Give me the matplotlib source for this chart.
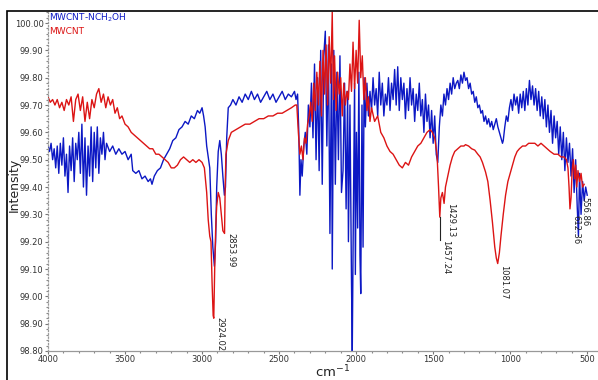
import numpy as np
import matplotlib
matplotlib.use('Agg')
import matplotlib.pyplot as plt
from matplotlib.patches import Rectangle
from matplotlib.ticker import MultipleLocator, FormatStrFormatter

# MWCNT-NCH2OH (blue) : wavenumber (cm-1) / intensity
blue_wn = [4000, 3990, 3980, 3970, 3960, 3950, 3940, 3930, 3920, 3910, 3900, 3890, 3880, 3870, 3860,
           3850, 3840, 3830, 3820, 3810, 3800, 3790, 3780, 3770, 3760, 3750, 3740, 3730, 3720, 3710,
           3700, 3690, 3680, 3670, 3660, 3650, 3640, 3630, 3620, 3600, 3580, 3560, 3540, 3520, 3500,
           3480, 3460, 3450, 3430, 3410, 3390, 3370, 3350, 3335, 3325, 3310, 3290, 3270, 3250, 3230,
           3210, 3190, 3170, 3150, 3130, 3110, 3090, 3070, 3050, 3030, 3015, 3000, 2990, 2980, 2970,
           2960, 2950, 2940, 2930, 2920, 2912, 2905, 2895, 2885, 2875, 2865, 2855, 2848, 2840, 2830,
           2815, 2800, 2780, 2760, 2740, 2720, 2700, 2680, 2660, 2640, 2620, 2600, 2580, 2560, 2540,
           2520, 2500, 2480, 2460, 2440, 2420, 2400, 2390, 2380, 2372, 2365, 2358, 2350, 2340, 2330,
           2320, 2310, 2300, 2290, 2280, 2270, 2260, 2250, 2240, 2230, 2220, 2210, 2200, 2190, 2180,
           2170, 2160, 2155, 2145, 2135, 2125, 2115, 2105, 2095, 2085, 2075, 2065, 2055, 2050, 2040,
           2030, 2025, 2018, 2010, 2005, 1998, 1990, 1982, 1975, 1970, 1962, 1955, 1948, 1940, 1930,
           1920, 1910, 1900, 1890, 1880, 1870, 1860, 1850, 1840, 1830, 1820, 1810, 1800, 1790, 1780,
           1770, 1760, 1750, 1740, 1730, 1720, 1710, 1700, 1690, 1680, 1670, 1660, 1650, 1640, 1630,
           1620, 1610, 1600, 1590, 1580, 1570, 1560, 1550, 1540, 1530, 1520, 1510, 1500, 1490, 1480,
           1470, 1460, 1450, 1440, 1430, 1420, 1410, 1400, 1390, 1380, 1370, 1360, 1350, 1340, 1330,
           1320, 1310, 1300, 1290, 1280, 1270, 1260, 1250, 1240, 1230, 1220, 1210, 1200, 1190, 1180,
           1170, 1160, 1150, 1140, 1130, 1120, 1110, 1100, 1090, 1080, 1070, 1060, 1050, 1045, 1035,
           1025, 1015, 1005, 995, 985, 975, 965, 955, 945, 935, 925, 915, 905, 895, 885,
           875, 865, 855, 845, 835, 825, 815, 805, 795, 785, 775, 765, 755, 745, 735,
           725, 715, 705, 695, 685, 675, 665, 655, 645, 635, 625, 615, 605, 595, 585,
           575, 565, 557, 550, 540, 530, 520, 510, 500]
blue_val = [99.55, 99.53, 99.56, 99.50, 99.54, 99.47, 99.55, 99.45, 99.56, 99.48, 99.58, 99.44, 99.52, 99.38, 99.55,
            99.46, 99.58, 99.42, 99.56, 99.50, 99.60, 99.45, 99.63, 99.40, 99.58, 99.37, 99.55, 99.44, 99.62, 99.42,
            99.60, 99.47, 99.62, 99.45, 99.58, 99.52, 99.60, 99.50, 99.56, 99.53, 99.55, 99.52, 99.54, 99.52, 99.53,
            99.50, 99.52, 99.46, 99.45, 99.46, 99.43, 99.44, 99.42, 99.43, 99.41, 99.44, 99.46, 99.47, 99.50, 99.52,
            99.54, 99.57, 99.58, 99.61, 99.62, 99.64, 99.63, 99.66, 99.65, 99.68, 99.67, 99.69, 99.66, 99.62, 99.55,
            99.51, 99.47, 99.30, 99.18, 99.11, 99.20, 99.40, 99.53, 99.57, 99.52, 99.44, 99.37, 99.40, 99.58, 99.69,
            99.70, 99.72, 99.70, 99.73, 99.71, 99.74, 99.72, 99.75, 99.72, 99.74, 99.71, 99.73, 99.75, 99.72, 99.74,
            99.71, 99.73, 99.75, 99.72, 99.74, 99.73, 99.75, 99.72, 99.74, 99.60, 99.37, 99.50, 99.44, 99.55, 99.60,
            99.52, 99.70, 99.62, 99.78, 99.58, 99.85, 99.50, 99.80, 99.46, 99.90, 99.41, 99.88, 99.97, 99.55, 99.92,
            99.23, 99.85, 99.10, 99.90, 99.41, 99.82, 99.50, 99.88, 99.38, 99.46, 99.78, 99.32, 99.75, 99.20, 99.70,
            99.05, 98.80, 99.30, 99.78, 99.08, 99.60, 99.25, 99.82, 99.15, 99.01, 99.70, 99.18, 99.80, 99.62, 99.78,
            99.66, 99.75, 99.68, 99.80, 99.70, 99.76, 99.66, 99.82, 99.70, 99.78, 99.66, 99.74, 99.70, 99.80, 99.68,
            99.78, 99.72, 99.83, 99.70, 99.84, 99.68, 99.80, 99.72, 99.78, 99.65, 99.76, 99.68, 99.80, 99.70, 99.76,
            99.64, 99.74, 99.68, 99.78, 99.66, 99.72, 99.60, 99.74, 99.64, 99.70, 99.58, 99.68, 99.56, 99.66, 99.52,
            99.49, 99.62, 99.70, 99.66, 99.74, 99.70, 99.76, 99.72, 99.78, 99.74, 99.80, 99.76, 99.78, 99.79, 99.76,
            99.81, 99.78, 99.82, 99.79, 99.80, 99.76, 99.78, 99.74, 99.75, 99.71, 99.73, 99.69, 99.70, 99.67, 99.68,
            99.64, 99.66, 99.63, 99.65, 99.62, 99.64, 99.61, 99.63, 99.65, 99.62, 99.60, 99.58, 99.56, 99.57, 99.62,
            99.66, 99.64, 99.69, 99.72, 99.68, 99.74, 99.70, 99.73, 99.67, 99.74, 99.69, 99.75, 99.68, 99.76, 99.70,
            99.79, 99.72, 99.77, 99.70, 99.76, 99.68, 99.75, 99.66, 99.73, 99.65, 99.72, 99.62, 99.70, 99.60, 99.68,
            99.56, 99.66, 99.58, 99.64, 99.52, 99.62, 99.50, 99.60, 99.46, 99.58, 99.49, 99.56, 99.44, 99.54, 99.38,
            99.50, 99.33, 99.22, 99.45, 99.30, 99.42, 99.35, 99.40, 99.37]

# MWCNT (red)
red_wn = [4000, 3985, 3970, 3955, 3940, 3925, 3910, 3895, 3880, 3865, 3850, 3835, 3820, 3805, 3790,
          3775, 3760, 3745, 3730, 3715, 3700, 3685, 3670, 3655, 3640, 3625, 3610, 3595, 3580, 3565,
          3550, 3535, 3520, 3500, 3480, 3460, 3440, 3420, 3400, 3380, 3360, 3340, 3320, 3300, 3280,
          3260, 3240, 3220, 3200, 3180, 3160, 3140, 3120, 3100, 3080, 3060, 3040, 3020, 3000, 2985,
          2970, 2960, 2950, 2942, 2935, 2928, 2924, 2918, 2912, 2905, 2895, 2885, 2875, 2865, 2854,
          2850, 2845, 2830, 2810, 2780, 2750, 2720, 2690, 2660, 2630, 2600, 2570, 2540, 2510, 2480,
          2450, 2420, 2395, 2385, 2375, 2365, 2355, 2345, 2335, 2325, 2315, 2305, 2295, 2285, 2275,
          2265, 2255, 2245, 2235, 2225, 2215, 2205, 2195, 2185, 2175, 2165, 2155, 2148, 2140, 2130,
          2120, 2110, 2100, 2090, 2080, 2070, 2060, 2050, 2040, 2030, 2020, 2010, 2000, 1990, 1980,
          1970, 1960, 1950, 1940, 1930, 1920, 1910, 1900, 1880, 1860, 1840, 1820, 1800, 1780, 1760,
          1740, 1720, 1700, 1680, 1660, 1640, 1620, 1600, 1580, 1560, 1540, 1520, 1505, 1490, 1475,
          1465, 1457, 1450, 1440, 1429, 1420, 1405, 1390, 1375, 1360, 1340, 1320, 1300, 1290, 1270,
          1250, 1230, 1210, 1195, 1180, 1160, 1145, 1130, 1115, 1100, 1090, 1081, 1070, 1060, 1045,
          1030, 1015, 1000, 985, 970, 955, 940, 920, 900, 880, 860, 840, 820, 800, 780,
          760, 740, 715, 690, 670, 650, 635, 625, 618, 612, 605, 598, 590, 582, 575,
          568, 560, 550, 540, 530, 520]
red_val = [99.73, 99.71, 99.72, 99.70, 99.72, 99.69, 99.71, 99.68, 99.72, 99.70, 99.73, 99.64, 99.72, 99.74, 99.68,
           99.73, 99.64, 99.71, 99.65, 99.72, 99.69, 99.74, 99.76, 99.71, 99.74, 99.69, 99.73, 99.70, 99.72, 99.67,
           99.69, 99.65, 99.66, 99.63, 99.62, 99.60, 99.59, 99.58, 99.57, 99.56, 99.55, 99.54, 99.54, 99.52, 99.52,
           99.51, 99.50, 99.49, 99.47, 99.47, 99.48, 99.50, 99.51, 99.50, 99.49, 99.50, 99.49, 99.50, 99.49, 99.47,
           99.38, 99.28, 99.22, 99.20, 99.05, 98.93, 98.92, 99.10, 99.24, 99.33, 99.38, 99.36, 99.30, 99.24, 99.23,
           99.40, 99.52, 99.57, 99.60, 99.61, 99.62, 99.63, 99.63, 99.64, 99.65, 99.65, 99.66, 99.66, 99.67, 99.67,
           99.68, 99.69, 99.70, 99.70, 99.60, 99.52, 99.55, 99.50, 99.58, 99.56, 99.63, 99.66, 99.71, 99.64, 99.78,
           99.68, 99.82, 99.70, 99.86, 99.66, 99.90, 99.74, 99.92, 99.70, 99.95, 99.78, 100.04, 99.72, 99.88, 99.68,
           99.82, 99.74, 99.80, 99.66, 99.78, 99.70, 99.75, 99.72, 99.85, 99.75, 99.93, 99.76, 99.90, 99.78, 100.01,
           99.80, 99.88, 99.72, 99.80, 99.68, 99.73, 99.64, 99.69, 99.64, 99.66, 99.60, 99.58, 99.55, 99.53, 99.52,
           99.50, 99.48, 99.47, 99.49, 99.48, 99.51, 99.53, 99.55, 99.56, 99.58, 99.60, 99.61, 99.60, 99.58, 99.52,
           99.40, 99.29, 99.36, 99.38, 99.34, 99.40, 99.44, 99.48, 99.51, 99.53, 99.54, 99.55, 99.55, 99.555, 99.55,
           99.54, 99.535, 99.52, 99.51, 99.49, 99.455, 99.42, 99.35, 99.27, 99.18, 99.14, 99.12, 99.16, 99.22, 99.30,
           99.37, 99.42, 99.45, 99.48, 99.51, 99.53, 99.54, 99.55, 99.55, 99.56, 99.56, 99.56, 99.55, 99.56, 99.55,
           99.54, 99.53, 99.52, 99.52, 99.51, 99.51, 99.50, 99.47, 99.40, 99.32, 99.36, 99.46, 99.50, 99.43, 99.48,
           99.40, 99.46, 99.42, 99.45, 99.40, 99.41]

# peak labels : wavenumber, intensity at label top
peak_wn = [2924.02, 2853.99, 1457.24, 1429.13, 1081.07, 612.36, 556.86]
peak_lab = ['2924.02', '2853.99', '1457.24', '1429.13', '1081.07', '612.36', '556.86']
peak_top = [98.925, 99.232, 99.206, 99.341, 99.115, 99.297, 99.363]

blue_c = '#0c18c4'
red_c = '#dc1414'

fig = plt.figure(figsize=(5.98, 3.80), dpi=100)
ax = fig.add_axes([48 / 598, 29 / 380, 550 / 598, 340 / 380])

ax.plot(blue_wn, blue_val, color=blue_c, lw=1.0)
ax.plot(red_wn, red_val, color=red_c, lw=1.0)

ax.set_xlim(4000, 430)
ax.set_ylim(98.80, 100.044)

# labels under the peaks, small lead line for 1457.24
ax.plot([1457.24, 1457.24], [99.29, 99.206], color='#222222', lw=0.8)
for wn, lab, top in zip(peak_wn, peak_lab, peak_top):
    ax.text(wn - 12, top, lab, rotation=270, ha='left', va='top',
            fontsize=6, color='#222222')

ax.xaxis.set_major_locator(MultipleLocator(500))
ax.xaxis.set_minor_locator(MultipleLocator(100))
ax.yaxis.set_major_locator(MultipleLocator(0.1))
ax.yaxis.set_minor_locator(MultipleLocator(0.02))
ax.yaxis.set_major_formatter(FormatStrFormatter('%.2f'))
ax.tick_params(axis='both', which='major', labelsize=6, labelcolor='#333333',
               color='#777777', length=2, width=0.8, pad=1.2)
ax.tick_params(axis='both', which='minor', color='#888888', length=1.2, width=0.8)

for s in ['top', 'right']:
    ax.spines[s].set_visible(False)
ax.spines['left'].set_color('#999999')
ax.spines['left'].set_linestyle(':')
ax.spines['bottom'].set_color('#999999')
ax.spines['left'].set_linewidth(0.9)
ax.spines['bottom'].set_linewidth(0.9)

fig.text(14 / 598, 1 - 185 / 380, 'Intensity', rotation=90, fontsize=9, color='#222222',
         ha='center', va='center')
fig.text(333 / 598, 0, 'cm$^{-1}$', fontsize=9.5, color='#222222', ha='center', va='bottom')

fig.text(49 / 598, 1 - 18 / 380, 'MWCNT-NCH$_2$OH', fontsize=6.5, color=blue_c, va='center')
fig.text(49 / 598, 1 - 31 / 380, 'MWCNT', fontsize=6.5, color=red_c, va='center')

# outer frame
fig.patches.append(Rectangle((7 / 598, -0.2), 1.2, 1.2 - 11 / 380, transform=fig.transFigure,
                             fill=False, edgecolor='black', lw=1.2))

fig.savefig('out.png', dpi=100)
